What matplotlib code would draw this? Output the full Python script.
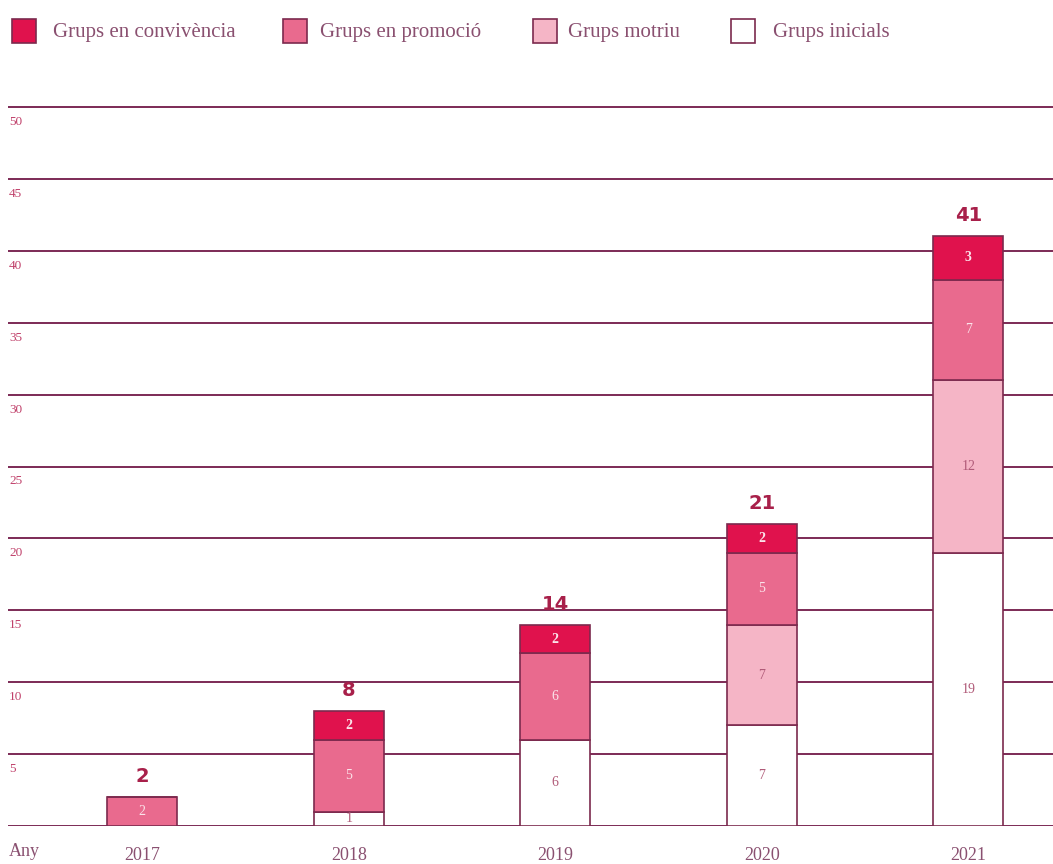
import matplotlib
matplotlib.use("Agg")
import matplotlib.pyplot as plt
from matplotlib.patches import Rectangle
import matplotlib.transforms as mtransforms

years = ["2017", "2018", "2019", "2020", "2021"]
series_names = ["Grups inicials", "Grups motriu", "Grups en promoció", "Grups en convivència"]
inicials = [0, 1, 6, 7, 19]
motriu = [0, 0, 0, 7, 12]
promocio = [2, 5, 6, 5, 7]
convivencia = [0, 2, 2, 2, 3]
totals = [2, 8, 14, 21, 41]
y_ticks = [5, 10, 15, 20, 25, 30, 35, 40, 45, 50]

series = [inicials, motriu, promocio, convivencia]
colors = ["#ffffff", "#f5b5c6", "#e96a8e", "#e0124d"]
label_colors = ["#b05a78", "#b05a78", "#fbe3ea", "#fbe3ea"]
edge = "#7c2a4e"
grid_c = "#7c2a55"
tick_c = "#c0406a"
total_c = "#a8204a"
text_c = "#8a5070"

plt.rcParams['font.family'] = ['Liberation Serif', 'DejaVu Serif']

fig = plt.figure(figsize=(10.53, 8.64), dpi=100)
ax = fig.add_axes([8 / 1053, 38 / 864, 1 - 8 / 1053, (826 - 107) / 864 * (50.4 / 50)])
ax.set_xlim(-0.65, 4.41)
ax.set_ylim(0, 50.4)

for v in [0] + y_ticks:
    ax.axhline(v, color=grid_c, lw=1.4, zorder=1)

x = list(range(len(years)))
bottoms = [0] * len(years)
width = 0.34
for vals, col, lc in zip(series, colors, label_colors):
    ax.bar(x, vals, width=width, bottom=bottoms, color=col, edgecolor=edge,
           linewidth=1.2, zorder=3)
    for i, v in enumerate(vals):
        if v > 0:
            ax.text(x[i], bottoms[i] + v / 2, str(v), ha='center', va='center',
                    fontsize=10, color=lc, zorder=4,
                    fontweight='bold' if col == "#e0124d" else 'normal')
    bottoms = [b + v for b, v in zip(bottoms, vals)]

for i, t in enumerate(totals):
    ax.annotate(str(t), (x[i], bottoms[i]), xytext=(0, 8), textcoords='offset points',
                ha='center', va='bottom', fontsize=14, fontweight='bold',
                color=total_c, family=['DejaVu Sans'], zorder=5)

trans = mtransforms.blended_transform_factory(ax.transAxes, ax.transData)
off = mtransforms.offset_copy(trans, fig=fig, x=0, y=-9, units='dots')
for v in y_ticks:
    ax.text(1 / 1045, v, str(v), transform=off, ha='left', va='top',
            fontsize=9.5, color=tick_c)

ax.set_xticks(x)
ax.set_xticklabels(years, fontsize=13, color=text_c)
ax.tick_params(axis='x', length=0, pad=15)
ax.set_yticks([])
for s in ax.spines.values():
    s.set_visible(False)

fig.text(9 / 1053, 1 - 852 / 864, "Any", fontsize=13, color=text_c,
         ha='left', va='center')

# legend
leg_items = [("Grups en convivència", "#e0124d", 12, 53),
             ("Grups en promoció", "#e96a8e", 283, 320),
             ("Grups motriu", "#f5b5c6", 533, 568),
             ("Grups inicials", "#ffffff", 731, 773)]
for name, col, sx, tx in leg_items:
    fig.patches.append(Rectangle((sx / 1053, 1 - 43 / 864), 24 / 1053, 24 / 864,
                                 transform=fig.transFigure, facecolor=col,
                                 edgecolor=edge, linewidth=1.2))
    fig.text(tx / 1053, 1 - 32 / 864, name, fontsize=15, color=text_c,
             ha='left', va='center')

fig.savefig("out.png", dpi=100)
